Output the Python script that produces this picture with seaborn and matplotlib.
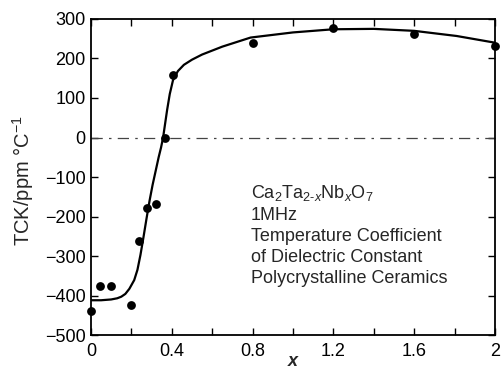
import matplotlib
matplotlib.use("Agg")
import matplotlib.pyplot as plt
import seaborn as sns
import pandas as pd
from matplotlib.ticker import MultipleLocator, FixedLocator, FixedFormatter

# measured data points
x_pts = [0.0, 0.043, 0.099, 0.197, 0.239, 0.277, 0.32, 0.367, 0.405, 0.8, 1.2, 1.6, 2.0]
y_pts = [-438, -377, -375, -424, -262, -179, -168, 0, 157, 240, 277, 261, 232]

# fitted curve
x_fit = [0.0, 0.05, 0.1, 0.13, 0.15, 0.17, 0.19, 0.214, 0.23, 0.245, 0.26, 0.275, 0.29, 0.305,
         0.32, 0.335, 0.347, 0.357, 0.367, 0.377, 0.39, 0.406, 0.43, 0.46, 0.5, 0.55, 0.65,
         0.79, 1.0, 1.2, 1.4, 1.6, 1.81, 2.0]
y_fit = [-412, -412, -410, -407, -403, -396, -383, -361, -335, -297, -252, -205, -160, -120,
         -85, -50, -25, 0, 35, 70, 110, 145, 168, 184, 197, 210, 230,
         253, 266, 274, 275, 270, 257, 240]

x_ticks = [0, 0.4, 0.8, 1.2, 1.6, 2.0]
x_tick_labels = ["0", "0.4", "0.8", "1.2", "1.6", "2"]
y_ticks = [-500, -400, -300, -200, -100, 0, 100, 200, 300]

sns.set_style("ticks")
plt.rcParams['font.family'] = ['Liberation Sans', 'DejaVu Sans']
plt.rcParams['mathtext.fontset'] = 'custom'
plt.rcParams['mathtext.rm'] = 'Liberation Sans'
plt.rcParams['mathtext.it'] = 'Liberation Sans:italic'

fig = plt.figure(figsize=(5.01, 3.71), dpi=100)
ax = fig.add_axes([0.1816, 0.097, 0.988 - 0.1816, 0.9488 - 0.097])

ax.axhline(0, color='#444444', lw=0.9, linestyle=(0, (9, 5, 2, 5)), zorder=1)

df_fit = pd.DataFrame({'x': x_fit, 'y': y_fit})
df_pts = pd.DataFrame({'x': x_pts, 'y': y_pts})
sns.lineplot(data=df_fit, x='x', y='y', ax=ax, color='black', lw=1.6, sort=False, zorder=2)
sns.scatterplot(data=df_pts, x='x', y='y', ax=ax, color='black', s=40, edgecolor='black',
                linewidth=0, zorder=3, clip_on=False)

ax.set_xlim(0, 2)
ax.set_ylim(-500, 300)
ax.xaxis.set_major_locator(FixedLocator(x_ticks))
ax.xaxis.set_major_formatter(FixedFormatter(x_tick_labels))
ax.xaxis.set_minor_locator(MultipleLocator(0.2))
ax.set_yticks(y_ticks)
ax.tick_params(axis='both', which='both', direction='in', top=True, right=True,
               length=5, width=1, labelsize=13, colors='black')
ax.tick_params(axis='x', pad=6)
ax.tick_params(axis='y', pad=4)

for s in ax.spines.values():
    s.set_linewidth(1.3)
    s.set_color('black')

ax.set_xlabel('x', fontsize=13, style='italic', fontweight='bold', labelpad=-5)
ax.set_ylabel(r'TCK/ppm °C$^{-1}$', fontsize=14.5)
ax.yaxis.set_label_coords(-0.137, 0.49)

txt = (r'Ca$_2$Ta$_{2\text{-}\mathit{x}}$Nb$_\mathit{x}$O$_7$' + '\n' + '1MHz\nTemperature Coefficient\n'
       'of Dielectric Constant\nPolycrystalline Ceramics')
ax.text(0.79, -115, txt, fontsize=13, va='top', ha='left', linespacing=1.3)

fig.savefig('out.png', dpi=100)
